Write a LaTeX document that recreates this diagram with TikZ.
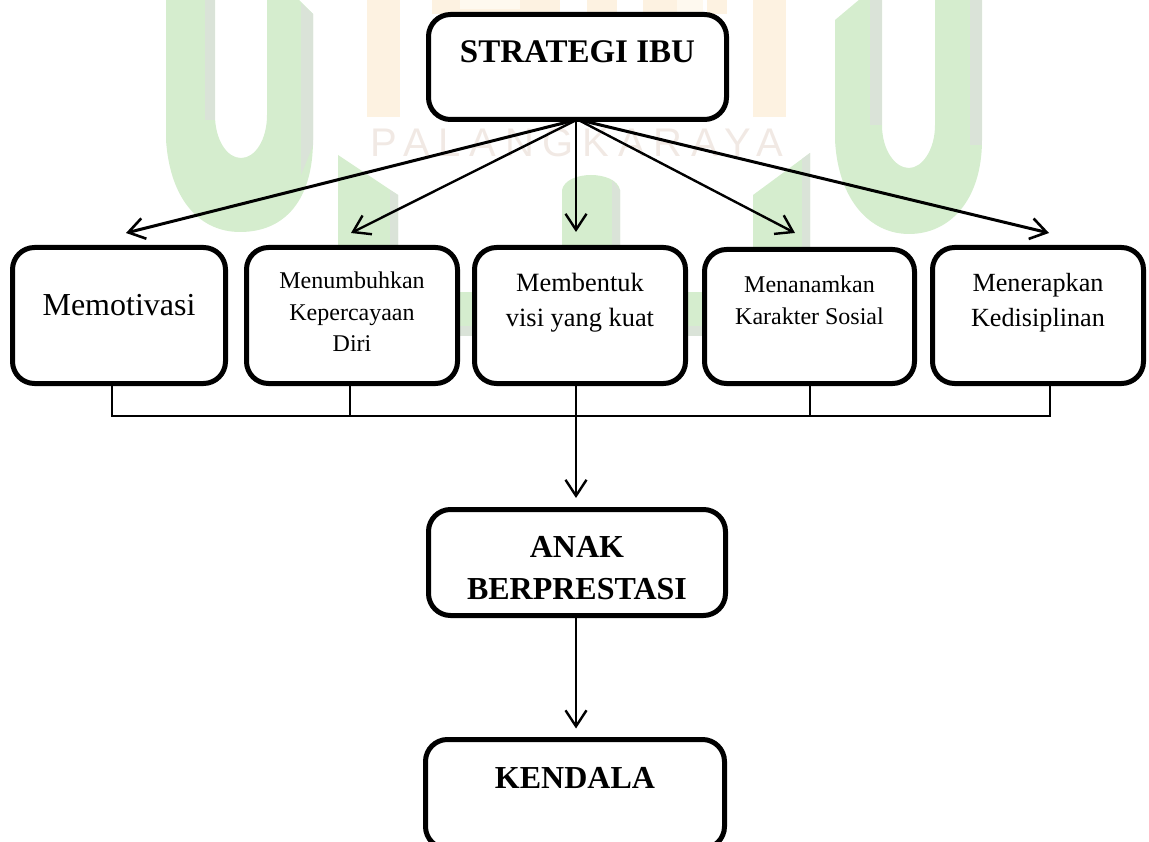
\documentclass[tikz,border=0pt]{standalone}
\usepackage{fontspec}
\setmainfont{Liberation Serif}
\newfontfamily\wmfont[LetterSpace=22]{Liberation Sans}
\usetikzlibrary{arrows.meta}
\definecolor{ug}{HTML}{D5EDCE}
\definecolor{ush}{HTML}{DAE3D8}
\definecolor{uo}{HTML}{FDF2E1}
\definecolor{uol}{HTML}{FEF9EF}
\definecolor{up}{HTML}{F1E9E4}
\newcommand\tlines[3]{\raisebox{#1}[0pt][0pt]{\vtop{\baselineskip=#2\lineskiplimit=-100pt\halign{\hfil##\hfil\cr #3}}}}
\newcommand\fsz[1]{\fontsize{#1}{#1}\selectfont}
\tikzset{
  x=1pt,y=-1pt,
  flowbox/.style={draw=black,fill=white,line width=5pt,rectangle,rounded corners=22pt,inner sep=0pt,outer sep=0pt},
  conn/.style={draw=black,line width=2.4pt,-{Straight Barb[length=16pt,width=21pt,line width=2.4pt]}},
  connthick/.style={draw=black,line width=3pt,-{Straight Barb[length=16pt,width=21pt,line width=2.6pt]}},
  busline/.style={draw=black,line width=1.6pt},
  wmU/.style={fill=ug},
  wmS/.style={fill=ush},
  wmO/.style={fill=uo},
  wmL/.style={fill=uol}
}
\begin{document}
\begin{tikzpicture}
\useasboundingbox (0,0) rectangle (1149,842);
\clip (0,0) rectangle (1149,842);
% watermark
\fill[wmO] (367,0) rectangle (400,117);
\fill[wmO] (753,0) rectangle (786,117);
\fill[wmO] (432,0) rectangle (560,14);
\fill[wmL] (460,0) rectangle (520,9);
\fill[wmO] (587,0) rectangle (617,14);
\fill[wmO] (643,0) rectangle (677,14);
\fill[wmL] (677,0) rectangle (703,14);
\fill[wmO] (707,0) rectangle (727,14);
\node[text=up,font=\wmfont\fsz{40},inner sep=0pt,anchor=base] (wmtext) at (577,157) {PALANGKARAYA};
\fill[wmU] (166,-1) -- (166,140) .. controls (170,200) and (200,232) .. (240,232) .. controls (285,232) and (313,200) .. (313,140) -- (313,14) -- (298,-1) -- (267,-1) -- (267,115) .. controls (267,140) and (255,158) .. (241,158) .. controls (227,158) and (215,140) .. (215,115) -- (215,-1) -- cycle;
\fill[wmS] (205,-1) rectangle (215,120);
\fill[wmS] (301,3) -- (313,14) -- (313,145) -- (301,175) -- cycle;
\fill[wmU] (835,20) -- (835,140) .. controls (838,200) and (870,234) .. (909,234) .. controls (950,234) and (982,200) .. (982,140) -- (982,-1) -- (935,-1) -- (935,125) .. controls (935,150) and (922,168) .. (909,168) .. controls (895,168) and (882,150) .. (882,125) -- (882,-1) -- (860,-1) -- cycle;
\fill[wmS] (870,-1) rectangle (882,125);
\fill[wmS] (970,-1) rectangle (982,145);
\fill[wmU] (338,155) -- (398,195) -- (398,250) -- (338,250) -- cycle;
\fill[wmS] (390,190) -- (398,195) -- (398,250) -- (390,250) -- cycle;
\fill[wmU] (562,190) .. controls (566,170) and (616,170) .. (620,190) -- (620,250) -- (562,250) -- cycle;
\fill[wmS] (612,180) -- (620,190) -- (620,250) -- (612,250) -- cycle;
\fill[wmU] (753,195) -- (810,153) -- (810,250) -- (753,250) -- cycle;
\fill[wmS] (802,159) -- (810,153) -- (810,250) -- (802,250) -- cycle;
\fill[wmU] (456,292) rectangle (705,326);
\fill[wmS] (456,326) rectangle (705,336);
% free ends
\coordinate (t1) at (126,233);
\coordinate (t2) at (351,233);
\coordinate (t3) at (576,232);
\coordinate (t4) at (795,233);
\coordinate (t5) at (1049,233);
\coordinate (b1) at (112,416);
\coordinate (b2) at (350,416);
\coordinate (b4) at (810,416);
\coordinate (b5) at (1050,416);
% boxes
\node[flowbox,minimum width=298pt,minimum height=105pt] (strategi) at (577.5,67) {\fsz{33}\bfseries\tlines{4pt}{40pt}{STRATEGI IBU\cr}};
\node[flowbox,minimum width=213pt,minimum height=136pt] (motiv) at (119,315.5) {\fsz{32}\tlines{-0pt}{36pt}{Memotivasi\cr}};
\node[flowbox,minimum width=211pt,minimum height=136pt] (tumbuh) at (352,315.5) {\fsz{24}\tlines{26.5pt}{31.5pt}{Menumbuhkan\cr Kepercayaan\cr Diri\cr}};
\node[flowbox,minimum width=211pt,minimum height=136pt] (bentuk) at (580,315.5) {\fsz{26.4}\tlines{23.5pt}{35pt}{Membentuk\cr visi yang kuat\cr}};
\node[flowbox,minimum width=210pt,minimum height=134pt] (tanam) at (809.5,316.5) {\fsz{24}\tlines{23.5pt}{32pt}{Menanamkan\cr Karakter Sosial\cr}};
\node[flowbox,minimum width=211pt,minimum height=136pt] (terap) at (1038,315.5) {\fsz{26.2}\tlines{23.5pt}{35pt}{Menerapkan\cr Kedisiplinan\cr}};
\node[flowbox,minimum width=297pt,minimum height=106pt] (anak) at (577,562.5) {\fsz{32}\bfseries\tlines{5.5pt}{42pt}{ANAK\cr BERPRESTASI\cr}};
\node[flowbox,minimum width=299pt,minimum height=109pt] (kendala) at (575,794) {\fsz{32}\bfseries\tlines{6pt}{40pt}{KENDALA\cr}};
% connectors
\draw[connthick] (strategi.south) -- (t1);
\draw[conn] (strategi.south) -- (t2);
\draw[conn] (strategi.south -| t3) -- (t3);
\draw[conn] (strategi.south) -- (t4);
\draw[connthick] (strategi.south) -- (t5);
\draw[busline] (b1 |- motiv.south) -- (b1) -- (b5) -- (b5 |- terap.south);
\draw[busline] (b2 |- tumbuh.south) -- (b2);
\draw[busline] (b4 |- tanam.south) -- (b4);
\draw[conn] (t3 |- bentuk.south) -- ([yshift=11.5pt]t3 |- anak.north);
\draw[conn] (t3 |- anak.south) -- ([yshift=11pt]t3 |- kendala.north);
\end{tikzpicture}
\end{document}
